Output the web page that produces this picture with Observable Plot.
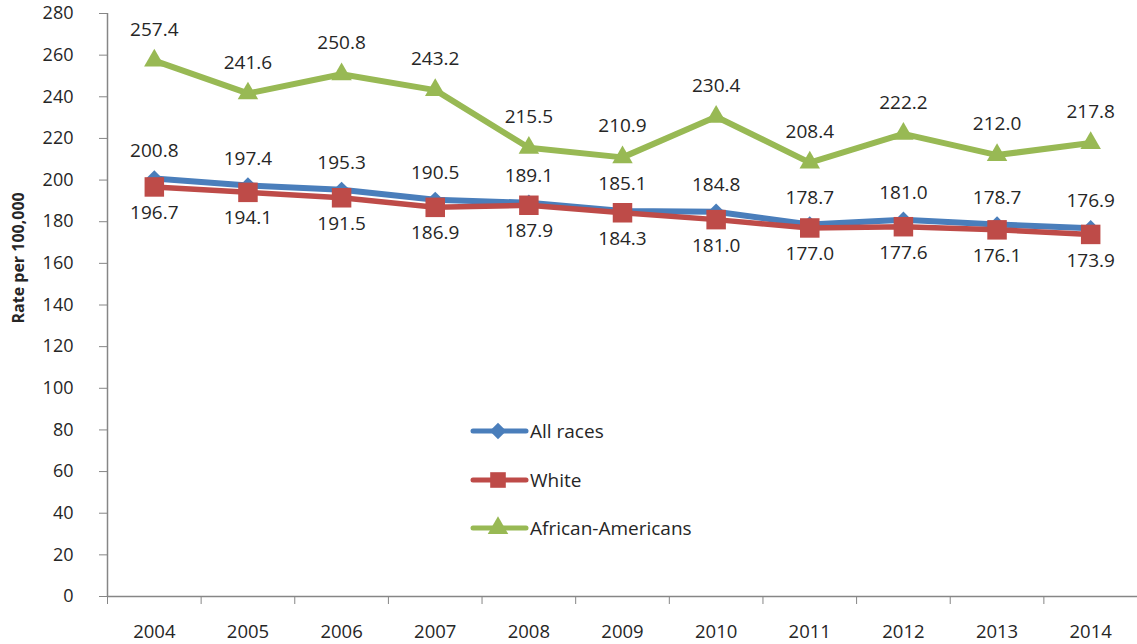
<!DOCTYPE html>
<html>
<head>
<meta charset="utf-8">
<script src="https://cdn.jsdelivr.net/npm/d3@7"></script>
<script src="https://cdn.jsdelivr.net/npm/@observablehq/plot@0.6"></script>
<style>
  body { margin: 0; background: #fff; }
  #chart { position: relative; width: 1137px; height: 644px; font-family: "Open Sans", sans-serif; color: #262626; }
  #legend { position: absolute; left: 470px; top: 407px; }
  .item { display: flex; align-items: center; height: 48.5px; font-size: 19px; }
  .item svg { display: block; }
</style>
</head>
<body>
<div id="chart"><div id="legend"></div></div>
<script>
// ---- Data ----
const years = [2004, 2005, 2006, 2007, 2008, 2009, 2010, 2011, 2012, 2013, 2014];
const allRaces = [200.8, 197.4, 195.3, 190.5, 189.1, 185.1, 184.8, 178.7, 181.0, 178.7, 176.9];
const white = [196.7, 194.1, 191.5, 186.9, 187.9, 184.3, 181.0, 177.0, 177.6, 176.1, 173.9];
const africanAmericans = [257.4, 241.6, 250.8, 243.2, 215.5, 210.9, 230.4, 208.4, 222.2, 212.0, 217.8];
const seriesNames = ["All races", "White", "African-Americans"];
const yTicks = [0, 20, 40, 60, 80, 100, 120, 140, 160, 180, 200, 220, 240, 260, 280];
const yLabel = "Rate per 100,000";

// ---- Styles (kept separate from data) ----
const styles = {
  "All races":         {color: "#4a7ebb", symbol: "diamond2", r: 7.4, width: 6,   labelDy: -27},
  "White":             {color: "#be4b48", symbol: "square",   r: 11,  width: 5.5, labelDy: 26},
  "African-Americans": {color: "#98b954", symbol: "triangle", r: 7.6, width: 6,   labelDy: -31}
};

const seriesValues = [allRaces, white, africanAmericans];
const table = seriesNames.map((name, i) =>
  years.map((year, j) => ({series: name, year, value: seriesValues[i][j]}))
);

const boundaries = [...years.map(y => y - 0.5), years[years.length - 1] + 0.5];
const axisColor = "#868686";

const marks = [
  Plot.axisY({ticks: yTicks, tickSize: 8, tickPadding: 26, stroke: axisColor, fontSize: 18, label: null}),
  Plot.axisX({ticks: boundaries, tickSize: 8, tickFormat: () => "", stroke: axisColor, label: null}),
  Plot.axisX({ticks: years, tickSize: 0, tickPadding: 28, tickFormat: d => String(d), fontSize: 18.5, label: null}),
  Plot.ruleY([0], {stroke: axisColor, strokeWidth: 1.5}),
  Plot.ruleX([boundaries[0]], {stroke: axisColor, strokeWidth: 1.5}),
  Plot.text([yLabel], {frameAnchor: "left", rotate: -90, dx: -89, dy: 18.5, fontWeight: "bold", fontSize: 16, fill: "#262626"})
];

table.forEach(data => {
  const s = styles[data[0].series];
  marks.push(Plot.line(data, {x: "year", y: "value", stroke: s.color, strokeWidth: s.width, strokeLinejoin: "round"}));
  marks.push(Plot.dot(data, {x: "year", y: "value", symbol: () => s.symbol, r: s.r, fill: s.color, stroke: "none"}));
});
table.forEach(data => {
  const s = styles[data[0].series];
  marks.push(Plot.text(data, {x: "year", y: "value", text: d => d.value.toFixed(1), dy: s.labelDy, fontSize: 19, fill: "#262626"}));
});

const chart = Plot.plot({
  width: 1137,
  height: 644,
  marginLeft: 107,
  marginRight: 0,
  marginTop: 13,
  marginBottom: 48,
  style: {fontFamily: "Open Sans, sans-serif", fontSize: "18px", color: "#262626", background: "#fff", overflow: "visible"},
  x: {type: "linear", domain: [boundaries[0], boundaries[boundaries.length - 1]], axis: null},
  y: {domain: [0, 280], axis: null},
  symbol: {type: "identity"},
  marks
});
document.getElementById("chart").prepend(chart);

// ---- Legend (HTML overlay) ----
const legend = d3.select("#legend");
seriesNames.forEach(name => {
  const s = styles[name];
  const item = legend.append("div").attr("class", "item");
  const svg = item.append("svg").attr("width", 60).attr("height", 26);
  svg.append("line").attr("x1", 3).attr("x2", 56).attr("y1", 13).attr("y2", 13)
    .attr("stroke", s.color).attr("stroke-width", 5).attr("stroke-linecap", "round");
  const size = s.r * s.r * Math.PI;
  const sym = {diamond2: d3.symbolDiamond2, square: d3.symbolSquare, triangle: d3.symbolTriangle}[s.symbol];
  const rScale = s.symbol === "square" ? 0.8 : 1;
  svg.append("path").attr("transform", "translate(28,13)")
    .attr("d", d3.symbol(sym, size * rScale * rScale)()).attr("fill", s.color);
  item.append("span").text(name);
});
</script>
</body>
</html>
